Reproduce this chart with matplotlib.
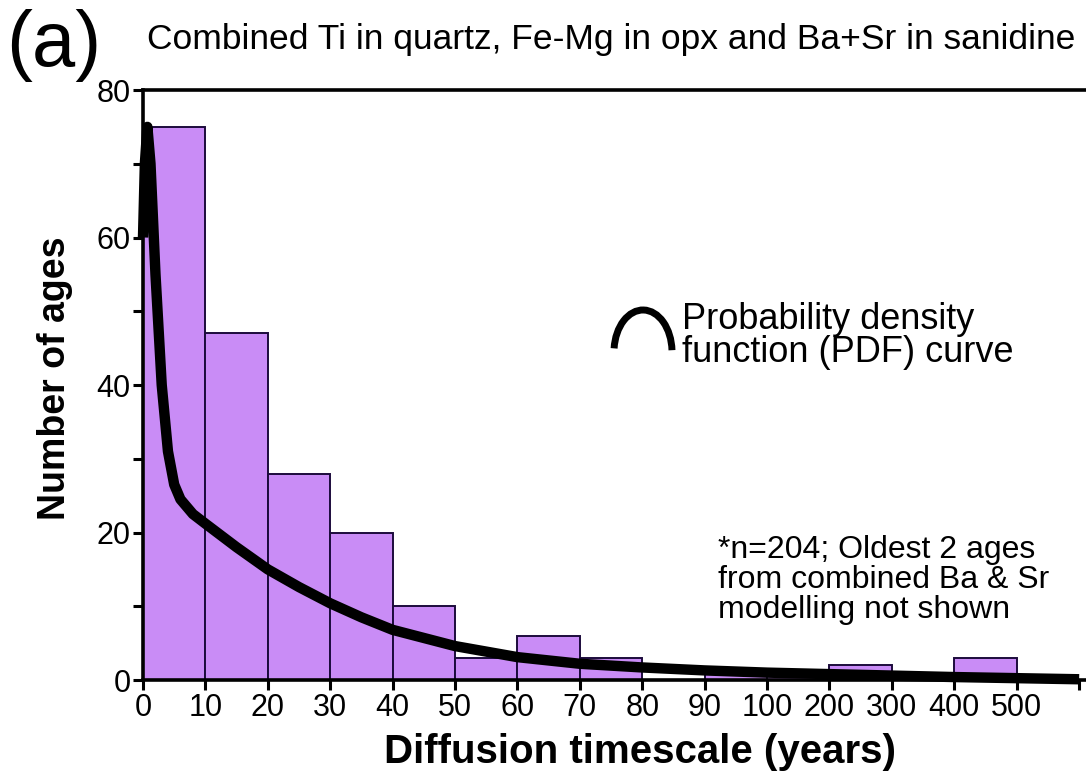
import numpy as np
import matplotlib
matplotlib.use("Agg")
import matplotlib.pyplot as plt
from matplotlib.patches import Arc

plt.rcParams['font.family'] = ['Liberation Sans', 'DejaVu Sans']

# histogram bins (years) and counts
BIN_EDGES = [0, 10, 20, 30, 40, 50, 60, 70, 80, 90, 100, 200, 300, 400, 500]
COUNTS = [75, 47, 28, 20, 10, 3, 6, 3, 0, 1, 1, 2, 0, 3]

# PDF curve (years, number of ages)
PDF_X = [0, 0.3, 0.7, 1.2, 2, 3, 4, 5, 6, 8, 10, 15, 20, 25, 30, 35, 40, 45,
         50, 60, 70, 80, 90, 100, 200, 300, 400, 500, 600]
PDF_Y = [60, 70, 75, 70, 55, 40, 31, 26.5, 24.5, 22.5, 21.2, 18, 15, 12.6, 10.4,
         8.5, 6.8, 5.7, 4.6, 3.1, 2.2, 1.7, 1.3, 1.0, 0.8, 0.6, 0.4, 0.25, 0.1]

TICK_YEARS = [0, 10, 20, 30, 40, 50, 60, 70, 80, 90, 100, 200, 300, 400, 500, 600]
TICK_LABELS = ['0', '10', '20', '30', '40', '50', '60', '70', '80', '90',
               '100', '200', '300', '400', '500', '']


def forward(x):
    # 0-100 years linear in steps of 10, then 100-year steps get the same width
    x = np.asarray(x, dtype=float)
    return np.where(x <= 100, x / 10.0, 10 + (x - 100) / 100.0)


def inverse(p):
    p = np.asarray(p, dtype=float)
    return np.where(p <= 10, p * 10.0, 100 + (p - 10) * 100.0)


fig = plt.figure(figsize=(10.86, 7.75), dpi=100)
ax = fig.add_axes([143 / 1086, 1 - 680 / 775, 1 - 143 / 1086, (680 - 90) / 775])
ax.set_xscale('function', functions=(forward, inverse))

widths = np.diff(BIN_EDGES)
ax.bar(BIN_EDGES[:-1], COUNTS, width=widths, align='edge',
       color='#c98cf6', edgecolor='#1c0b3c', linewidth=1.4, zorder=2)
ax.plot(PDF_X, PDF_Y, color='black', linewidth=7.5, solid_capstyle='butt',
        solid_joinstyle='round', zorder=3, clip_on=False)

ax.set_xlim(0, 611)
ax.set_ylim(0, 80)
ax.set_xticks(TICK_YEARS)
ax.set_xticklabels(TICK_LABELS)
ax.set_yticks([0, 20, 40, 60, 80])
ax.set_yticks([10, 30, 50, 70], minor=True)
ax.tick_params(axis='both', which='both', direction='out', width=2.2,
               length=7, labelsize=22, colors='black', pad=2)

for side in ['left', 'bottom', 'top']:
    ax.spines[side].set_linewidth(2.6)
ax.spines['right'].set_visible(False)

fig.text(55 / 1086, 1 - 378 / 775, 'Number of ages', fontsize=27,
         fontweight='bold', rotation=90, ha='center', va='center')
fig.text(640 / 1086, 1 - 752 / 775, 'Diffusion timescale (years)', fontsize=29,
         fontweight='bold', ha='center', va='center')

fig.text(6 / 1086, 1 - 46 / 775, '(a)', fontsize=56, va='center', ha='left')
fig.text(147 / 1086, 1 - 40 / 775,
         'Combined Ti in quartz, Fe-Mg in opx and Ba+Sr in sanidine',
         fontsize=25.5, va='center', ha='left')

# legend symbol for the PDF curve
arc = Arc((643 / 1086, 1 - 352 / 775), 58 / 1086, 84 / 775, theta1=5, theta2=170,
          transform=fig.transFigure, color='black', linewidth=5)
fig.add_artist(arc)
fig.text(682 / 1086, 1 - 336 / 775, 'Probability density\nfunction (PDF) curve',
         fontsize=26, va='center', ha='left', linespacing=0.95)

fig.text(718 / 1086, 1 - 580 / 775,
         '*n=204; Oldest 2 ages\nfrom combined Ba & Sr\nmodelling not shown',
         fontsize=23, va='center', ha='left', linespacing=1.0)

fig.savefig('out.png', dpi=100, facecolor='white')
